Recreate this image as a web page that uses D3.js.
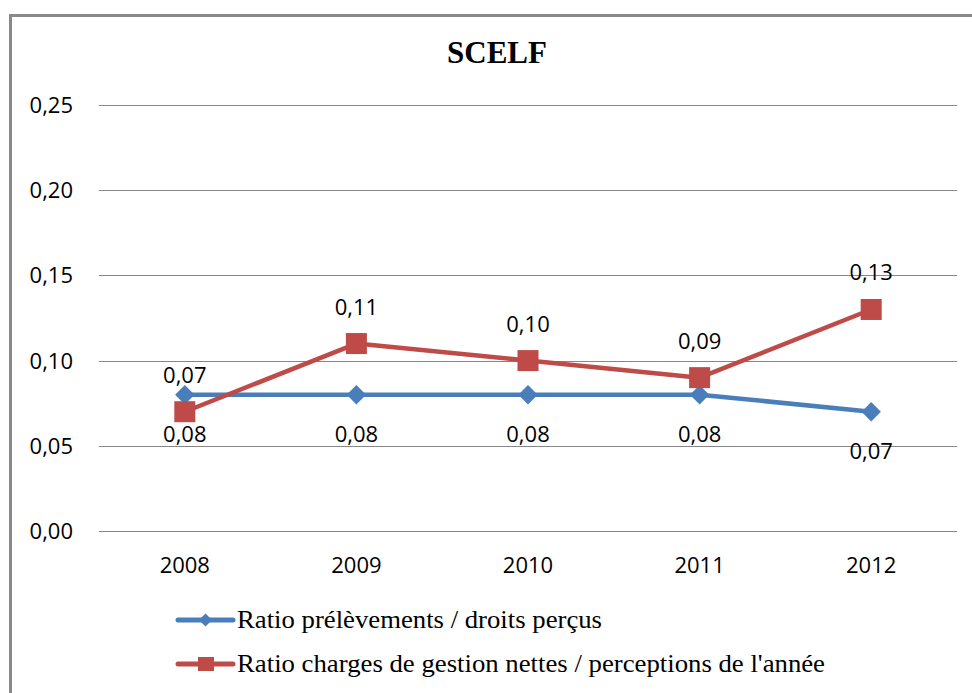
<!DOCTYPE html>
<html>
<head>
<meta charset="utf-8">
<script src="https://cdn.jsdelivr.net/npm/d3@7"></script>
<style>
  body { margin: 0; background: #fff; }
  svg { display: block; }
</style>
</head>
<body>
<svg id="chart" width="972" height="693"></svg>
<script>
const years = ["2008", "2009", "2010", "2011", "2012"];
const prelevements = [0.08, 0.08, 0.08, 0.08, 0.07];
const charges = [0.07, 0.11, 0.10, 0.09, 0.13];
const yTicks = [0, 0.05, 0.10, 0.15, 0.20, 0.25];
const seriesNames = [
  "Ratio prélèvements / droits perçus",
  "Ratio charges de gestion nettes / perceptions de l'année"
];

const blue = "#4a7ebb";
const red = "#be4b48";
const fmt = (v) => d3.format(".2f")(v).replace(".", ",");

const svg = d3.select("#chart");

// outer frame (runs off the right and bottom edge)
svg.append("rect")
  .attr("x", 10.5).attr("y", 15.5)
  .attr("width", 1000).attr("height", 1000)
  .attr("fill", "#fff")
  .attr("stroke", "#898989")
  .attr("stroke-width", 3);

svg.append("text")
  .attr("x", 497).attr("y", 63)
  .attr("text-anchor", "middle")
  .style("font-family", "'Liberation Serif', 'Times New Roman', serif")
  .style("font-weight", "bold")
  .style("font-size", "31px")
  .text("SCELF");

const x = d3.scaleBand().domain(years).range([99, 957]);
const y = d3.scaleLinear().domain([0, 0.25]).range([531, 105]);
const cx = (d) => x(d) + x.bandwidth() / 2;

const numFont = "'Open Sans', 'Liberation Sans', sans-serif";

// gridlines
svg.append("g")
  .selectAll("line")
  .data(yTicks)
  .join("line")
  .attr("x1", 99).attr("x2", 957)
  .attr("y1", (d) => Math.round(y(d)) + 0.5)
  .attr("y2", (d) => Math.round(y(d)) + 0.5)
  .attr("stroke", "#868686")
  .attr("stroke-width", 1);

// y tick labels
svg.append("g")
  .selectAll("text")
  .data(yTicks)
  .join("text")
  .attr("x", 73)
  .attr("y", (d) => y(d) + 8)
  .attr("text-anchor", "end")
  .style("font-family", numFont)
  .style("font-size", "22px")
  .attr("fill", "#000")
  .text((d) => fmt(d));

// x labels
svg.append("g")
  .selectAll("text")
  .data(years)
  .join("text")
  .attr("x", (d) => cx(d))
  .attr("y", 573)
  .attr("text-anchor", "middle")
  .style("font-family", numFont)
  .style("font-size", "22px")
  .attr("fill", "#000")
  .text((d) => d);

const line = d3.line()
  .x((d) => cx(d.year))
  .y((d) => y(d.value));

const blueData = years.map((yr, i) => ({ year: yr, value: prelevements[i] }));
const redData = years.map((yr, i) => ({ year: yr, value: charges[i] }));

svg.append("path")
  .datum(blueData)
  .attr("d", line)
  .attr("fill", "none")
  .attr("stroke", blue)
  .attr("stroke-width", 4.5)
  .attr("stroke-linejoin", "round");

svg.append("path")
  .datum(redData)
  .attr("d", line)
  .attr("fill", "none")
  .attr("stroke", red)
  .attr("stroke-width", 4.5)
  .attr("stroke-linejoin", "round");

// diamonds
svg.append("g")
  .selectAll("path")
  .data(blueData)
  .join("path")
  .attr("d", d3.symbol(d3.symbolDiamond2, 240))
  .attr("transform", (d) => `translate(${cx(d.year)},${y(d.value)})`)
  .attr("fill", blue);

// squares
svg.append("g")
  .selectAll("rect")
  .data(redData)
  .join("rect")
  .attr("x", (d) => cx(d.year) - 10.5)
  .attr("y", (d) => y(d.value) - 10.5)
  .attr("width", 21).attr("height", 21)
  .attr("fill", red);

// data labels: red above, blue below
svg.append("g")
  .selectAll("text")
  .data(redData)
  .join("text")
  .attr("x", (d) => cx(d.year))
  .attr("y", (d) => y(d.value) - 29)
  .attr("text-anchor", "middle")
  .style("font-family", numFont)
  .style("font-size", "22px")
  .text((d) => fmt(d.value));

svg.append("g")
  .selectAll("text")
  .data(blueData)
  .join("text")
  .attr("x", (d) => cx(d.year))
  .attr("y", (d) => y(d.value) + 47)
  .attr("text-anchor", "middle")
  .style("font-family", numFont)
  .style("font-size", "22px")
  .text((d) => fmt(d.value));

// legend
const legend = svg.append("g");
const legendRows = [
  { name: seriesNames[0], color: blue, shape: "diamond", y: 620, len: 365 },
  { name: seriesNames[1], color: red, shape: "square", y: 664, len: 588 }
];
legendRows.forEach((r) => {
  legend.append("line")
    .attr("x1", 178).attr("x2", 233)
    .attr("y1", r.y).attr("y2", r.y)
    .attr("stroke", r.color)
    .attr("stroke-width", 5)
    .attr("stroke-linecap", "round");
  if (r.shape === "diamond") {
    legend.append("path")
      .attr("d", d3.symbol(d3.symbolDiamond2, 110))
      .attr("transform", `translate(205.5,${r.y})`)
      .attr("fill", r.color);
  } else {
    legend.append("rect")
      .attr("x", 198).attr("y", r.y - 7)
      .attr("width", 16).attr("height", 14)
      .attr("fill", r.color);
  }
  legend.append("text")
    .attr("x", 237).attr("y", r.y + 8)
    .attr("textLength", r.len)
    .attr("lengthAdjust", "spacingAndGlyphs")
    .style("font-family", "'Liberation Serif', 'Times New Roman', serif")
    .style("font-size", "25px")
    .attr("fill", "#000")
    .text(r.name);
});
</script>
</body>
</html>
